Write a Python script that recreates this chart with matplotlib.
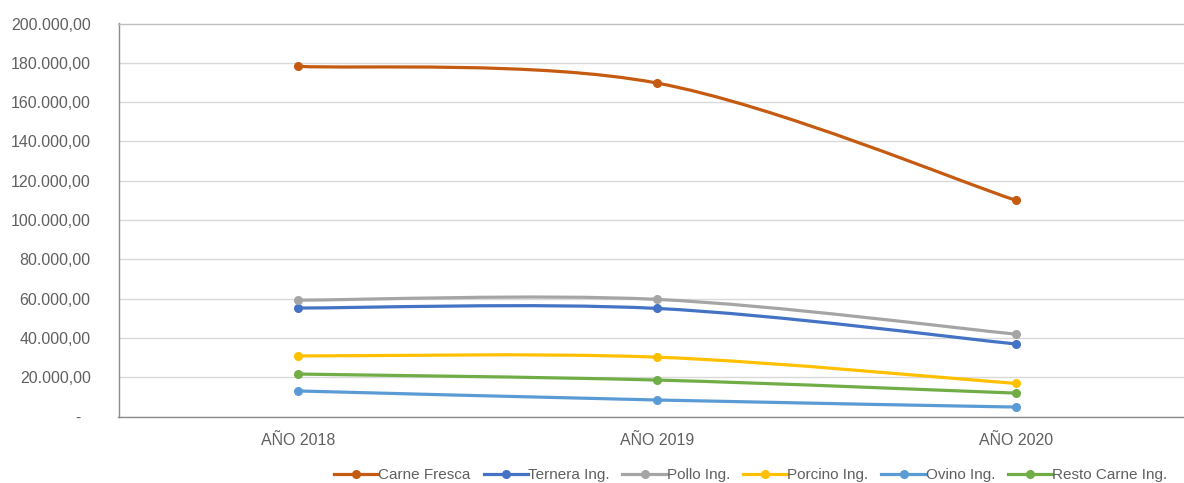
import matplotlib
matplotlib.use("Agg")
import matplotlib.pyplot as plt
import numpy as np
from matplotlib.path import Path
from matplotlib.patches import PathPatch
from matplotlib.lines import Line2D
from matplotlib.ticker import FuncFormatter, MultipleLocator

plt.rcParams['font.family'] = ['Liberation Sans', 'DejaVu Sans']

years = ["AÑO 2018", "AÑO 2019", "AÑO 2020"]
carne_fresca = [178200, 169700, 110000]
ternera = [55200, 55000, 36900]
pollo = [59200, 59600, 41900]
porcino = [30800, 30200, 16800]
ovino = [13000, 8400, 4800]
resto = [21600, 18550, 11900]

series = [
    ("Carne Fresca", carne_fresca, "#C55A11"),
    ("Ternera Ing.", ternera, "#4472C4"),
    ("Pollo Ing.", pollo, "#A5A5A5"),
    ("Porcino Ing.", porcino, "#FFC000"),
    ("Ovino Ing.", ovino, "#5B9BD5"),
    ("Resto Carne Ing.", resto, "#70AD47"),
]

TEXT = "#606060"


def smooth_path(x, y):
    # bezier segments like Excel's "smoothed line"
    pts = np.column_stack([x, y]).astype(float)
    n = len(pts)
    verts = [pts[0]]
    codes = [Path.MOVETO]
    for i in range(n - 1):
        p0 = pts[max(i - 1, 0)]
        p1 = pts[i]
        p2 = pts[i + 1]
        p3 = pts[min(i + 2, n - 1)]
        c1 = p1 + (p2 - p0) / 6.0
        c2 = p2 - (p3 - p1) / 6.0
        verts += [c1, c2, p2]
        codes += [Path.CURVE4] * 3
    return Path(verts, codes)


def fmt(v, pos):
    if abs(v) < 1:
        return "-  "
    s = f"{v:,.2f}"
    return s.replace(",", "X").replace(".", ",").replace("X", ".")


fig = plt.figure(figsize=(11.84, 4.83), dpi=100)
ax = fig.add_axes([118.5 / 1184, 1 - 416.5 / 483, 1077 / 1184, 393 / 483])

xs = np.arange(len(years))
handles = []
for name, vals, color in series:
    patch = PathPatch(smooth_path(xs, vals), fill=False, edgecolor=color,
                      lw=2.3, capstyle="round", joinstyle="round", zorder=3)
    ax.add_patch(patch)
    ax.plot(xs, vals, "o", color=color, ms=5.5, zorder=4)
    handles.append(Line2D([], [], color=color, lw=2.3, marker="o", ms=5.5))

ax.set_xlim(-0.5, 2.5)
ax.set_ylim(0, 200000)
ax.set_xticks(xs)
ax.set_xticklabels(years)
ax.yaxis.set_major_locator(MultipleLocator(20000))
ax.yaxis.set_major_formatter(FuncFormatter(fmt))
ax.grid(axis="y", color="#D9D9D9", lw=1)
ax.set_axisbelow(True)
ax.tick_params(axis="both", length=0, labelsize=11.5, colors=TEXT)
ax.tick_params(axis="y", pad=20)
ax.tick_params(axis="x", pad=12)
for side in ["left", "bottom", "top"]:
    ax.spines[side].set_color("#8C8C8C")
    ax.spines[side].set_linewidth(1)
ax.spines["top"].set_color("#BFBFBF")
ax.spines["right"].set_visible(False)

fig.legend(handles, [s[0] for s in series], loc="center left",
           bbox_to_anchor=(334 / 1184, 1 - 475 / 483), ncol=6, frameon=False,
           fontsize=11, handlelength=2.9, handletextpad=0.0,
           columnspacing=0.85, borderpad=0, borderaxespad=0, labelcolor=TEXT)

fig.savefig("out.png", dpi=100)
